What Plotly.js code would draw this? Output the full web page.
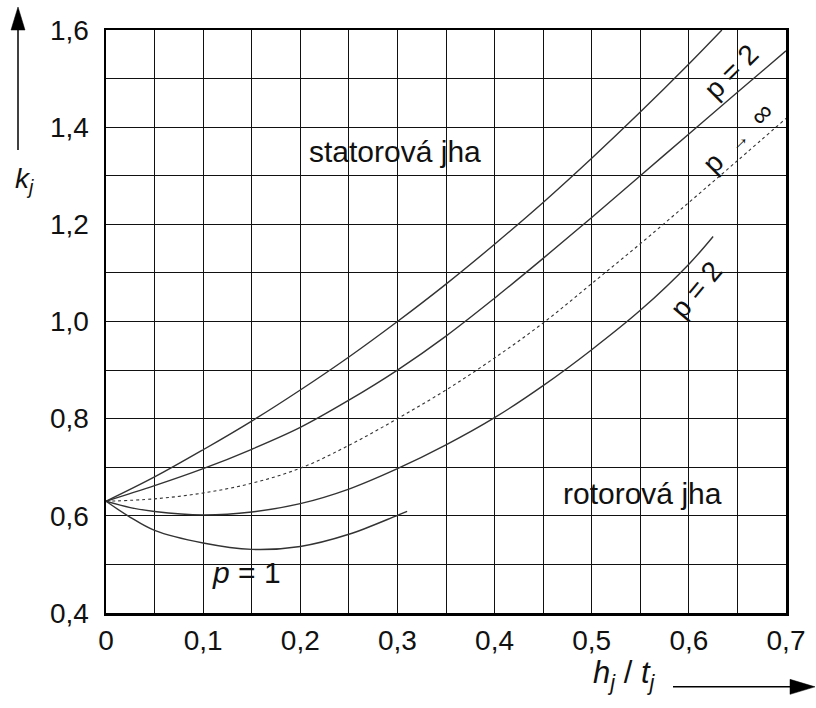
<!DOCTYPE html>
<html>
<head>
<meta charset="utf-8">
<script src="https://cdn.plot.ly/plotly-3.0.1.min.js"></script>
<style>
  html, body { margin: 0; padding: 0; background: #fff; }
  #chart { width: 816px; height: 708px; }
</style>
</head>
<body>
<div id="chart"></div>
<script>
// Yoke coefficient k_j versus yoke height ratio h_j / t_j
const statorP2X = [0, 0.05, 0.1, 0.15, 0.2, 0.25, 0.3, 0.35, 0.4, 0.45, 0.5, 0.55, 0.6, 0.634];
const statorP2Y = [0.63, 0.680, 0.736, 0.795, 0.859, 0.927, 1.0, 1.077, 1.159, 1.245, 1.336, 1.431, 1.530, 1.6];

const statorInfX = [0, 0.05, 0.1, 0.15, 0.2, 0.25, 0.3, 0.35, 0.4, 0.45, 0.5, 0.55, 0.6, 0.65, 0.7];
const statorInfY = [0.63, 0.662, 0.697, 0.737, 0.782, 0.838, 0.900, 0.970, 1.048, 1.130, 1.214, 1.300, 1.386, 1.472, 1.557];

const rotorInfX = [0, 0.05, 0.1, 0.15, 0.2, 0.25, 0.3, 0.35, 0.4, 0.45, 0.5, 0.55, 0.6, 0.65, 0.7];
const rotorInfY = [0.63, 0.635, 0.647, 0.667, 0.698, 0.745, 0.800, 0.859, 0.925, 0.997, 1.078, 1.160, 1.245, 1.331, 1.418];

const rotorP2X = [0, 0.025, 0.05, 0.1, 0.15, 0.2, 0.25, 0.3, 0.35, 0.4, 0.45, 0.5, 0.55, 0.6, 0.625];
const rotorP2Y = [0.63, 0.617, 0.609, 0.602, 0.608, 0.625, 0.655, 0.697, 0.746, 0.802, 0.868, 0.942, 1.023, 1.118, 1.175];

const p1X = [0, 0.025, 0.05, 0.1, 0.15, 0.2, 0.25, 0.3, 0.31];
const p1Y = [0.63, 0.597, 0.570, 0.544, 0.531, 0.537, 0.562, 0.601, 0.609];

// grid every 0.05 on x and every 0.1 on y; only some lines carry a label
const xTickVals = [0, 0.05, 0.1, 0.15, 0.2, 0.25, 0.3, 0.35, 0.4, 0.45, 0.5, 0.55, 0.6, 0.65, 0.7];
const xTickText = ['0', '', '0,1', '', '0,2', '', '0,3', '', '0,4', '', '0,5', '', '0,6', '', '0,7'];
const yTickVals = [0.4, 0.5, 0.6, 0.7, 0.8, 0.9, 1.0, 1.1, 1.2, 1.3, 1.4, 1.5, 1.6];
const yTickText = ['0,4', '', '0,6', '', '0,8', '', '1,0', '', '1,2', '', '1,4', '', '1,6'];

const FONT = 'Liberation Sans, Arial, sans-serif';
const INK = '#111';
const CURVE = '#333';

function curve(x, y, dash, width) {
  return {
    x: x, y: y, type: 'scatter', mode: 'lines', hoverinfo: 'skip',
    line: { color: CURVE, width: width, dash: dash, shape: 'spline', smoothing: 1.0 }
  };
}

const traces = [
  curve(statorP2X, statorP2Y, 'solid', 1.4),
  curve(statorInfX, statorInfY, 'solid', 1.4),
  curve(rotorInfX, rotorInfY, 'dot', 1.1),
  curve(rotorP2X, rotorP2Y, 'solid', 1.4),
  curve(p1X, p1Y, 'solid', 1.4)
];

// plot frame in pixels: left 106, right 786, top 30, bottom 612.7
const L = 106, R = 786, T = 30, B = 612.7;
const px = v => (v - L) / (R - L);
const py = v => (B - v) / (B - T);

const arrowShapes = [
  // vertical arrow beside k_j
  { type: 'line', xref: 'paper', yref: 'paper', x0: px(18), x1: px(18), y0: py(150), y1: py(28),
    line: { color: '#000', width: 1.5 } },
  { type: 'path', xref: 'paper', yref: 'paper', fillcolor: '#000', line: { color: '#000', width: 0.5 },
    path: `M ${px(18)} ${py(7)} L ${px(11)} ${py(30)} L ${px(25)} ${py(30)} Z` },
  // horizontal arrow beside h_j / t_j
  { type: 'line', xref: 'paper', yref: 'paper', x0: px(673), x1: px(792), y0: py(686.5), y1: py(686.5),
    line: { color: '#000', width: 1.5 } },
  { type: 'path', xref: 'paper', yref: 'paper', fillcolor: '#000', line: { color: '#000', width: 0.5 },
    path: `M ${px(815)} ${py(686.5)} L ${px(790)} ${py(679)} L ${px(790)} ${py(694)} Z` }
];

function label(text, x, y, angle, size) {
  return { text: text, x: x, y: y, xref: 'x', yref: 'y', showarrow: false,
    xanchor: 'center', yanchor: 'middle',
    textangle: angle || 0, font: { family: FONT, size: size || 24, color: INK } };
}

const annotations = [
  label('statorová jha', 0.2975, 1.349, 0, 30),
  label('rotorová jha', 0.552, 0.647, 0, 30),
  label('<i>p</i> = 1', 0.145, 0.484, 0, 30),
  label('p = 2', 0.644, 1.514, -45, 28),
  label('p  <span style="font-size:20px">→</span>  ∞', 0.651, 1.378, -45, 28),
  label('p = 2', 0.608, 1.065, -50, 28),
  { text: '<i>k<sub>j</sub></i>', xref: 'paper', yref: 'paper', x: px(24), y: py(180),
    xanchor: 'center', yanchor: 'middle',
    showarrow: false, font: { family: FONT, size: 28, color: INK } },
  { text: '<i>h</i><sub><i>j</i></sub> / <i>t</i><sub><i>j</i></sub>', xref: 'paper', yref: 'paper',
    x: px(624), y: py(675), xanchor: 'center', yanchor: 'middle',
    showarrow: false, font: { family: FONT, size: 31, color: INK } }
];

const layout = {
  width: 816, height: 708,
  margin: { l: L, r: 816 - R, t: T, b: 708 - B },
  paper_bgcolor: '#fff', plot_bgcolor: '#fff',
  showlegend: false,
  font: { family: FONT, size: 28, color: INK },
  xaxis: {
    range: [0, 0.7], tickmode: 'array', tickvals: xTickVals, ticktext: xTickText,
    showgrid: true, gridcolor: '#111', gridwidth: 1,
    showline: true, linecolor: '#000', linewidth: 2.5, mirror: true,
    zeroline: false, ticks: '', ticklabelstandoff: 1,
    tickfont: { family: FONT, size: 28, color: INK }, fixedrange: true
  },
  yaxis: {
    range: [0.4, 1.6], tickmode: 'array', tickvals: yTickVals, ticktext: yTickText,
    showgrid: true, gridcolor: '#111', gridwidth: 1,
    showline: true, linecolor: '#000', linewidth: 2.5, mirror: true,
    zeroline: false, ticks: '', ticklabelstandoff: 9,
    tickfont: { family: FONT, size: 28, color: INK }, fixedrange: true
  },
  shapes: arrowShapes,
  annotations: annotations
};

Plotly.newPlot('chart', traces, layout, { staticPlot: true, displayModeBar: false });
</script>
</body>
</html>
